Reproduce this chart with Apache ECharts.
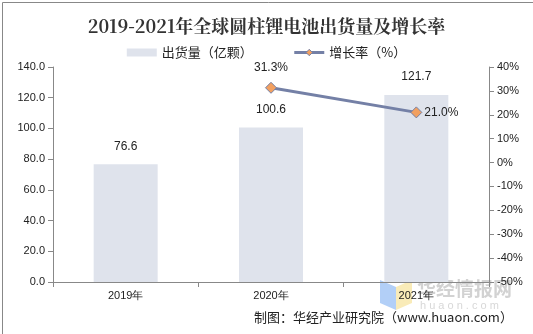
<!DOCTYPE html>
<html><head><meta charset="utf-8">
<script src="https://cdn.jsdelivr.net/npm/echarts@6/dist/echarts.min.js"></script>
<style>html,body{margin:0;padding:0;background:#fff}#c{width:533px;height:334px}</style>
</head><body><div id="c"></div>
<script>
var categories = ['2019年', '2020年', '2021年'];
var shipments = [76.6, 100.6, 121.7];
var growth = [null, 31.3, 21.0];
var leftTicks = [0, 140, 20];
var rightTicks = [-50, 40, 10];

var chart = echarts.init(document.getElementById('c'));
var axisFont = {fontFamily: 'Liberation Sans, Arial, sans-serif', fontSize: 11, color: '#222'};
chart.setOption({
  animation: false,
  backgroundColor: '#fff',
  title: {
    text: '2019-2021年全球圆柱锂电池出货量及增长率',
    left: 'center', top: 12,
    textStyle: {fontFamily: 'Noto Serif CJK SC, Noto Sans CJK SC, serif', fontSize: 18, fontWeight: 'bold', color: '#333'}
  },
  legend: {
    top: 41, left: 'center', itemGap: 40, itemWidth: 30, itemHeight: 8,
    textStyle: {fontFamily: 'Noto Sans CJK SC', fontSize: 13, color: '#222'},
    data: [
      {name: '出货量（亿颗）', icon: 'rect', itemStyle: {color: '#dfe3ec'}},
      {name: '增长率（%）', itemStyle: {color: '#f2a060', borderColor: '#7480a6', borderWidth: 1},
       lineStyle: {color: '#7480a6', width: 3}}
    ]
  },
  grid: {left: 53, right: 44, top: 67, bottom: 52},
  xAxis: {
    type: 'category', data: categories,
    axisLine: {lineStyle: {color: '#888'}},
    axisTick: {show: true, lineStyle: {color: '#888'}},
    axisLabel: axisFont
  },
  yAxis: [
    {type: 'value', min: leftTicks[0], max: leftTicks[1], interval: leftTicks[2],
     splitLine: {show: false},
     axisLine: {show: true, lineStyle: {color: '#888'}},
     axisTick: {show: true, lineStyle: {color: '#888'}},
     axisLabel: Object.assign({formatter: function(v){return v.toFixed(1);}}, axisFont)},
    {type: 'value', min: rightTicks[0], max: rightTicks[1], interval: rightTicks[2],
     splitLine: {show: false},
     axisLine: {show: true, lineStyle: {color: '#888'}},
     axisTick: {show: true, lineStyle: {color: '#888'}},
     axisLabel: Object.assign({formatter: '{value}%'}, axisFont)}
  ],
  series: [
    {name: '出货量（亿颗）', type: 'bar', data: shipments, barWidth: 64,
     itemStyle: {color: '#dfe3ec'},
     label: {show: true, position: 'top', distance: 12, formatter: function(p){return p.value.toFixed(1);},
             fontFamily: 'Liberation Sans, Arial', fontSize: 12, color: '#222'}},
    {name: '增长率（%）', type: 'line', yAxisIndex: 1,
     data: [growth[0], {value: growth[1], label: {position: 'top', distance: 8}}, {value: growth[2], label: {position: 'right', distance: 2}}],
     symbol: 'diamond', symbolSize: 11,
     lineStyle: {color: '#7480a6', width: 3},
     itemStyle: {color: '#f2a060', borderColor: '#7480a6', borderWidth: 1},
     label: {show: true, formatter: function(p){return p.value.toFixed(1)+'%';},
             fontFamily: 'Liberation Sans, Arial', fontSize: 12, color: '#222'},
     emphasis: {disabled: true}}
  ],
  graphic: [
    {type: 'rect', left: 0, top: 0, shape: {width: 532, height: 333}, style: {fill: 'none', stroke: '#888', lineWidth: 1}},
    {type: 'polygon', shape: {points: [[380,280],[396,287],[396,310],[380,303]]}, style: {fill: '#b2cff7'}, z: 0},
    {type: 'polygon', shape: {points: [[396,287],[412,280],[412,303],[396,310]]}, style: {fill: '#f9ebb8'}, z: 0},
    {type: 'text', left: 417, top: 279, style: {text: '华经情报网', fill: '#d2d2d2', font: 'bold 19px Noto Sans CJK SC'}, z: 0},
    {type: 'text', left: 420, top: 300, style: {text: 'h u a o n . c o m', fill: '#d8d8d8', font: '11px Liberation Sans'}, z: 0},
    {type: 'text', left: 254, top: 311, style: {text: '制图：华经产业研究院（www.huaon.com）', fill: '#222', font: '13px Noto Sans CJK SC'}}
  ]
});
</script></body></html>
